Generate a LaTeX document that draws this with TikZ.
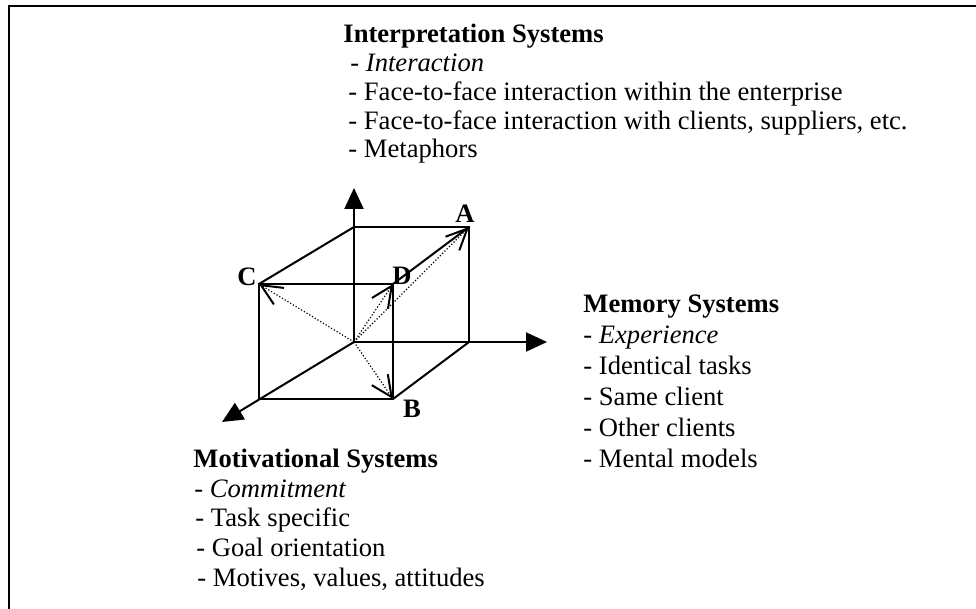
\documentclass[tikz,border=0pt]{standalone}
\usepackage{fontspec}
\setmainfont{Liberation Serif}
\usetikzlibrary{arrows.meta}

\begin{document}
\begin{tikzpicture}[x=0.5pt,y=-0.5pt,
	txt/.style={anchor=base west,inner sep=0pt,font=\fontsize{13.3}{15}\selectfont},
	hd/.style={anchor=base west,inner sep=0pt,font=\fontsize{13.3}{15}\selectfont\bfseries},
	lbl/.style={inner sep=0pt,font=\fontsize{13.3}{15}\selectfont\bfseries},
	edge/.style={line width=1pt},
	axis/.style={line width=1pt,-{Triangle[length=10.5pt,width=9.5pt]}},
	ray/.style={line width=0.6pt,dash pattern=on 0.6pt off 1pt,-{Straight Barb[length=10.5pt,width=9.7pt,line width=1pt]}}]
		\useasboundingbox (0,0) rectangle (976,609);
		% frame, only top and left
		\draw[line width=1pt] (9,609)--(9,6)--(976,6);
		% axes
		\coordinate (O) at (354,342);
		\coordinate (up) at (354,188);
		\coordinate (right) at (547,342);
		\coordinate (front) at (222,422);
		\draw[axis] (O)--(up);
		\draw[axis] (O)--(right);
		\draw[axis] (O)--(front);
		% cube
		\coordinate (P) at (354,227);
		\coordinate (A) at (469,227);
		\coordinate (Q) at (469,342);
		\coordinate (C) at (259,284);
		\coordinate (D) at (393,284);
		\coordinate (B) at (393,399);
		\coordinate (R) at (259,399);
		\draw[edge] (P)--(A)--(Q);
		\draw[edge] (C)--(D)--(B)--(R)--cycle;
		\draw[edge] (C)--(P);
		\draw[edge] (D)--(A);
		\draw[edge] (B)--(Q);
		\foreach \t in {A,B,C,D}{
			\draw[ray] (O)--(\t);
			}
		\node[lbl] (la) at (465,214) {A};
		\node[lbl] (lb) at (412,409) {B};
		\node[lbl] (lc) at (247,277) {C};
		\node[lbl] (ld) at (402,276) {D};
		% interpretation
		\node[hd] (int0) at (343,43) {Interpretation Systems};
		\node[txt] (int1) at (350,72) {- \textit{Interaction}};
		\node[txt] (int2) at (348,101) {- Face-to-face interaction within the enterprise};
		\node[txt] (int3) at (348,130) {- Face-to-face interaction with clients, suppliers, etc.};
		\node[txt] (int4) at (348,158) {- Metaphors};
		% memory
		\node[hd] (mem0) at (583,313) {Memory Systems};
		\node[txt] (mem1) at (583,344) {- \textit{Experience}};
		\node[txt] (mem2) at (583,375) {- Identical tasks};
		\node[txt] (mem3) at (583,406) {- Same client};
		\node[txt] (mem4) at (583,437) {- Other clients};
		\node[txt] (mem5) at (583,468) {- Mental models};
		% motivation
		\node[hd] (mot0) at (193,468) {Motivational Systems};
		\node[txt] (mot1) at (194,498) {- \textit{Commitment}};
		\node[txt] (mot2) at (195,527) {- Task specific};
		\node[txt] (mot3) at (196,557) {- Goal orientation};
		\node[txt] (mot4) at (197,587) {- Motives, values, attitudes};
		\end{tikzpicture}
\end{document}
